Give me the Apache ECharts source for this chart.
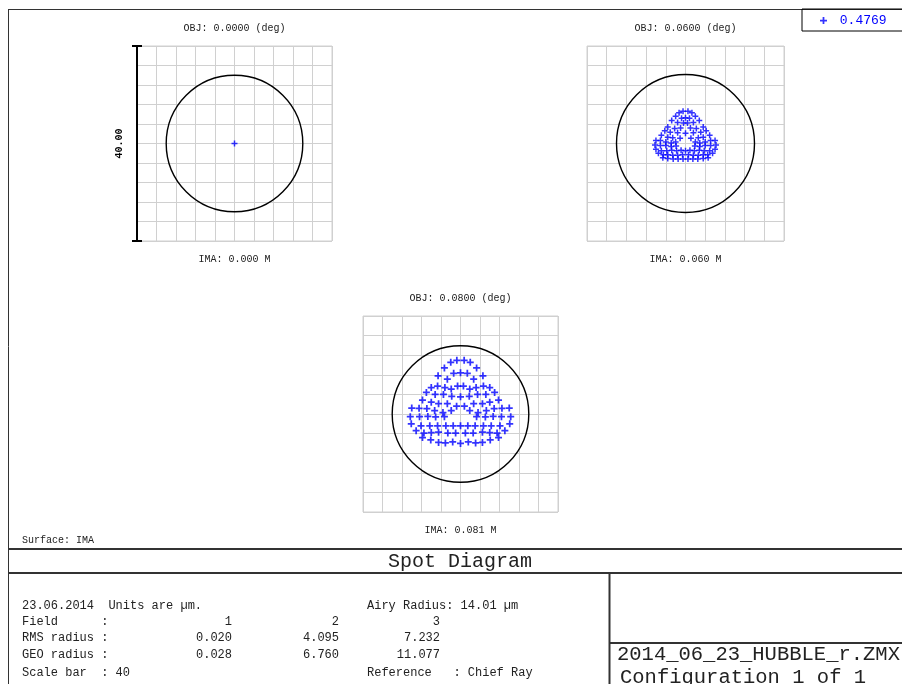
<!DOCTYPE html>
<html>
<head>
<meta charset="utf-8">
<script src="https://cdn.jsdelivr.net/npm/echarts@6/dist/echarts.min.js"></script>
<style>
  html, body { margin: 0; padding: 0; background: #fff; }
  #chart { width: 902px; height: 684px; }
</style>
</head>
<body>
<div id="chart"></div>
<script>
// values (units are µm)
const wavelength = '0.4769'
const airyRadius = 14.01
const scaleBar = 40
const fieldNumbers = ['1', '2', '3']
const fieldAngles = ['0.0000', '0.0600', '0.0800']
const imageHeights = ['0.000', '0.060', '0.081']
const rmsRadius = ['0.020', '4.095', '7.232']
const geoRadius = ['0.028', '6.760', '11.077']

// field 1 (on axis)
const spot1 = [[0, 0]]

// field 2 (0.06 deg)
const spot2 = [
  [-0.5, 6.6], [0.5, 6.6], [-1.3, 6.3], [1.3, 6.3],
  [-2.0, 5.6], [-0.8, 5.2], [0, 5.3], [0.8, 5.2], [2.0, 5.6],
  [-2.8, 4.7], [-1.6, 4.3], [-0.4, 4.2], [0.4, 4.2], [1.6, 4.3], [2.8, 4.7],
  [-3.6, 3.4], [-2.2, 3.1], [-1.0, 3.2], [1.0, 3.2], [2.2, 3.1], [3.6, 3.4],
  [-4.2, 2.6], [-3.1, 2.3], [-1.6, 2.2], [0, 2.1], [1.6, 2.2], [3.1, 2.3], [4.2, 2.6],
  [-4.9, 1.7], [-3.6, 1.3], [-2.6, 1.2], [-1.1, 1.1], [1.1, 1.1], [2.6, 1.2], [3.6, 1.3], [4.9, 1.7],
  [-6.0, 0.6], [-5.1, 0.6], [-4.0, 0.3], [-2.9, 0.1], [-2.0, 0.3], [2.0, 0.3], [2.9, 0.1], [4.0, 0.3], [5.1, 0.6], [6.0, 0.6],
  [-6.2, -0.3], [-5.1, -0.4], [-4.0, -0.4], [-2.9, -0.6], [-1.9, -0.5], [1.9, -0.5], [2.9, -0.6], [4.0, -0.4], [5.1, -0.4], [6.2, -0.3],
  [-6.0, -1.2], [-4.9, -1.5], [-3.8, -1.5], [-2.8, -1.4], [-1.8, -1.5], [-0.9, -1.4], [0, -1.5], [0.9, -1.4], [1.8, -1.5], [2.8, -1.4], [3.8, -1.5], [4.9, -1.5], [6.0, -1.2],
  [-5.5, -2.0], [-4.5, -2.3], [-3.6, -2.3], [-2.6, -2.4], [-1.6, -2.4], [-0.6, -2.3], [0.6, -2.3], [1.6, -2.4], [2.6, -2.4], [3.6, -2.3], [4.5, -2.3], [5.5, -2.0],
  [-4.6, -2.9], [-3.6, -3.1], [-2.5, -3.2], [-1.5, -3.2], [-0.5, -3.2], [0.5, -3.2], [1.5, -3.2], [2.5, -3.2], [3.6, -3.1], [4.6, -2.9]
]

// field 3 (0.08 deg)
const spot3 = [
  [-2.0, 10.55], [-0.75, 10.95], [0.75, 10.95], [2.0, 10.55],
  [-3.3, 9.4], [3.3, 9.4],
  [-1.4, 8.3], [0, 8.4], [1.4, 8.3],
  [-4.6, 7.8], [4.6, 7.8],
  [-2.7, 7.1], [2.7, 7.1],
  [-6.0, 5.4], [-4.7, 5.7], [-3.2, 5.4], [-1.9, 5.1], [-0.6, 5.7], [0.6, 5.7], [1.9, 5.1], [3.2, 5.4], [4.7, 5.7], [6.0, 5.4],
  [-7.0, 4.4], [-5.2, 4.0], [-3.5, 4.0], [-1.8, 3.6], [0, 3.5], [1.8, 3.6], [3.5, 4.0], [5.2, 4.0], [7.0, 4.4],
  [-7.8, 2.85], [-6.0, 2.4], [-4.5, 2.1], [-2.7, 2.1], [-0.8, 1.6], [0.8, 1.6], [2.7, 2.1], [4.5, 2.1], [6.0, 2.4], [7.8, 2.85],
  [-10.0, 1.2], [-8.5, 1.15], [-6.9, 1.1], [-5.3, 0.7], [-3.6, 0.3], [-1.9, 0.7], [1.9, 0.7], [3.6, 0.3], [5.3, 0.7], [6.9, 1.1], [8.5, 1.15], [10.0, 1.2],
  [-10.3, -0.55], [-8.4, -0.55], [-6.7, -0.5], [-5.1, -0.6], [-3.3, -0.55], [3.3, -0.55], [5.1, -0.6], [6.7, -0.5], [8.4, -0.55], [10.3, -0.55],
  [-10.1, -2.0], [-8.1, -2.4], [-6.3, -2.4], [-4.7, -2.4], [-3.0, -2.4], [-1.5, -2.4], [0, -2.4], [1.5, -2.4], [3.0, -2.4], [4.7, -2.4], [6.3, -2.4], [8.1, -2.4], [10.1, -2.0],
  [-9.1, -3.4], [-7.5, -3.9], [-6.0, -3.8], [-4.5, -3.7], [-2.6, -3.9], [-1.0, -3.9], [1.0, -3.9], [2.6, -3.9], [4.5, -3.7], [6.0, -3.8], [7.5, -3.9], [9.1, -3.4],
  [-7.8, -4.8], [-6.1, -5.3], [-4.5, -5.8], [-3.1, -5.9], [-1.6, -5.7], [0, -6.0], [1.6, -5.7], [3.1, -5.9], [4.5, -5.8], [6.1, -5.3], [7.8, -4.8]
]

const spots = [spot1, spot2, spot3]

// box for each field
const panels = [
  { left: 137, top: 46, width: 195, height: 195 },
  { left: 587, top: 46, width: 197, height: 195 },
  { left: 363, top: 316, width: 195, height: 196 }
]

const half = scaleBar / 2
const plusPath = 'path://M3,0H5V3H8V5H5V8H3V5H0V3H3Z'
const smallFont = '"Liberation Mono", monospace'
const blue = '#0000ff'
const ink = '#222'

const chart = echarts.init(document.getElementById('chart'))

const xAxes = panels.map((p, i) => ({
  gridIndex: i,
  type: 'value',
  min: -half,
  max: half,
  interval: scaleBar / 10,
  axisLabel: { show: false },
  axisTick: { show: false },
  axisLine: { show: false },
  splitLine: { lineStyle: { color: '#d0d0d0', width: 1 } }
}))

const yAxes = panels.map((p, i) => ({
  gridIndex: i,
  type: 'value',
  min: -half,
  max: half,
  interval: scaleBar / 10,
  name: i === 0 ? scaleBar.toFixed(2) : '',
  nameLocation: 'middle',
  nameRotate: 90,
  nameGap: 13,
  nameTextStyle: { fontFamily: smallFont, fontSize: 10, fontWeight: 'bold', color: '#000' },
  axisLabel: { show: false },
  axisTick: { show: false },
  axisLine: { show: false },
  splitLine: { lineStyle: { color: '#d0d0d0', width: 1 } }
}))

const series = []
panels.forEach((p, i) => {
  // airy disc
  series.push({
    type: 'custom',
    xAxisIndex: i,
    yAxisIndex: i,
    clip: false,
    silent: true,
    data: [[0, 0, airyRadius]],
    renderItem: (params, api) => {
      const c = api.coord([api.value(0), api.value(1)])
      const r = api.size([api.value(2), 0])[0]
      return {
        type: 'circle',
        shape: { cx: c[0], cy: c[1], r: r },
        style: { fill: 'none', stroke: '#000', lineWidth: 1.4 }
      }
    }
  })
  series.push({
    name: wavelength,
    type: 'scatter',
    xAxisIndex: i,
    yAxisIndex: i,
    symbol: plusPath,
    symbolSize: i === 2 ? 7 : 6,
    itemStyle: { color: blue },
    data: spots[i]
  })
})

// scale bar along the left side of the first box
series.push({
  type: 'custom',
  xAxisIndex: 0,
  yAxisIndex: 0,
  clip: false,
  silent: true,
  data: [[-half, -half, half]],
  renderItem: (params, api) => {
    const a = api.coord([api.value(0), api.value(1)])
    const b = api.coord([api.value(0), api.value(2)])
    const st = { stroke: '#000', lineWidth: 2 }
    return {
      type: 'group',
      children: [
        { type: 'line', shape: { x1: a[0], y1: a[1], x2: b[0], y2: b[1] }, style: st },
        { type: 'line', shape: { x1: a[0] - 5, y1: a[1], x2: a[0] + 5, y2: a[1] }, style: st },
        { type: 'line', shape: { x1: b[0] - 5, y1: b[1], x2: b[0] + 5, y2: b[1] }, style: st }
      ]
    }
  }
})

function label(text, x, y, align, size, font) {
  return {
    type: 'text',
    x: x,
    y: y,
    silent: true,
    style: {
      text: text,
      fill: ink,
      fontFamily: font || smallFont,
      fontSize: size || 10,
      align: align || 'left',
      verticalAlign: 'middle'
    }
  }
}

function rule(x1, y1, x2, y2, w) {
  return {
    type: 'line',
    silent: true,
    shape: { x1: x1, y1: y1, x2: x2, y2: y2 },
    style: { stroke: '#333', lineWidth: w || 1 }
  }
}

const graphics = [
  rule(8, 9.5, 902, 9.5, 1),
  rule(8.5, 9, 8.5, 684, 1),
  rule(8, 549, 902, 549, 2),
  rule(8, 573, 902, 573, 2),
  rule(609.5, 573, 609.5, 684, 2),
  rule(609, 643, 902, 643, 2)
]

panels.forEach((p, i) => {
  const cx = p.left + p.width / 2
  graphics.push(label('OBJ: ' + fieldAngles[i] + ' (deg)', cx, p.top - 18, 'center'))
  graphics.push(label('IMA: ' + imageHeights[i] + ' M', cx, p.top + p.height + 18, 'center'))
})

graphics.push(label('Surface: IMA', 22, 540, 'left'))
graphics.push(label('Spot Diagram', 460, 562, 'center', 20))

const textSize = 12
graphics.push(label('23.06.2014  Units are µm.', 22, 606, 'left', textSize))
graphics.push(label('Airy Radius: ' + airyRadius.toFixed(2) + ' µm', 367, 606, 'left', textSize))
graphics.push(label('Field      :', 22, 622, 'left', textSize))
graphics.push(label('RMS radius :', 22, 638, 'left', textSize))
graphics.push(label('GEO radius :', 22, 655, 'left', textSize))
graphics.push(label('Scale bar  : ' + scaleBar, 22, 673, 'left', textSize))
graphics.push(label('Reference   : Chief Ray', 367, 673, 'left', textSize))
const colRight = [232, 339, 440]
colRight.forEach((x, i) => {
  graphics.push(label(fieldNumbers[i], x, 622, 'right', textSize))
  graphics.push(label(rmsRadius[i], x, 638, 'right', textSize))
  graphics.push(label(geoRadius[i], x, 655, 'right', textSize))
})

graphics.push(label('2014_06_23_HUBBLE_r.ZMX', 617, 655, 'left', 20.5))
graphics.push(label('Configuration 1 of 1', 620, 678, 'left', 20.5))

chart.setOption({
  animation: false,
  backgroundColor: '#fff',
  legend: {
    data: [wavelength],
    left: 802,
    top: 9,
    icon: plusPath,
    itemWidth: 7,
    itemHeight: 7,
    selectedMode: false,
    formatter: ' {name}',
    borderColor: '#000',
    borderWidth: 1,
    padding: [5, 40, 4, 18],
    textStyle: { color: blue, fontFamily: smallFont, fontSize: 13 }
  },
  grid: panels.map(p => ({
    left: p.left,
    top: p.top,
    width: p.width,
    height: p.height,
    show: true,
    borderColor: '#d0d0d0',
    borderWidth: 1,
    containLabel: false
  })),
  xAxis: xAxes,
  yAxis: yAxes,
  series: series,
  graphic: graphics
})
</script>
</body>
</html>
